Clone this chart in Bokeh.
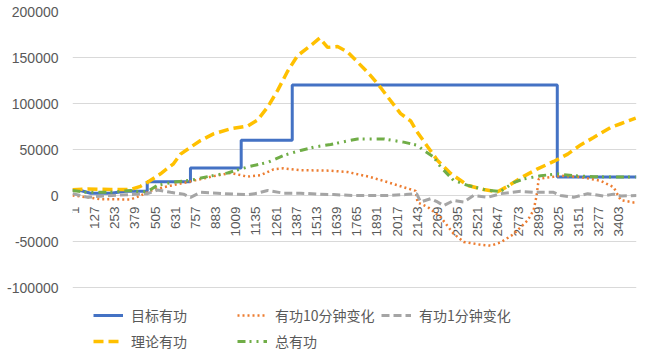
import math
from bokeh.plotting import figure
from bokeh.models import Range1d, FixedTicker, Legend, LegendItem, NumeralTickFormatter, ColumnDataSource
from bokeh.embed import file_html
from bokeh.resources import INLINE
from bokeh.core.properties import value

# ---------------- data ----------------
n_points = 3525
x_tick_labels = ["1", "127", "253", "379", "505", "631", "757", "883", "1009", "1135",
                 "1261", "1387", "1513", "1639", "1765", "1891", "2017", "2143", "2269",
                 "2395", "2521", "2647", "2773", "2899", "3025", "3151", "3277", "3403"]
y_ticks = [-100000, -50000, 0, 50000, 100000, 150000, 200000]

# 目标有功 (target active power)
target_x = [1, 51, 114, 239, 332, 468, 468, 738, 738, 1055, 1055, 1374, 1374, 3030, 3030, 3525]
target_y = [6000, 5500, 2500, 2500, 4500, 4500, 15000, 15000, 30000, 30000, 60000, 60000,
            120000, 120000, 20000, 20000]

# 有功10分钟变化 (10-min change)
chg10_x = [1, 95, 176, 364, 426, 489, 570, 676, 757, 882, 989, 1095, 1176, 1257, 1320,
           1426, 1614, 1720, 1864, 1970, 2070, 2145, 2157, 2220, 2301, 2382, 2445, 2551,
           2614, 2676, 2757, 2845, 2882, 2901, 2914, 2970, 3051, 3176, 3301, 3382, 3426,
           3507, 3525]
chg10_y = [0, -2000, -4000, -4300, 0, 5000, 9000, 13000, 16000, 21000, 24500, 20500,
           22000, 28500, 29500, 27500, 27000, 25500, 20000, 14500, 9000, 5000, -7500,
           -12500, -23500, -41500, -50500, -53500, -54500, -51000, -42000, -27000, -16000,
           0, 18000, 19500, 21500, 20000, 16000, 9000, -5000, -7500, -7500]

# 有功1分钟变化 (1-min change)
chg1_x = [1, 95, 195, 301, 407, 470, 532, 614, 695, 739, 801, 907, 1007, 1095, 1157,
          1220, 1320, 1426, 1532, 1632, 1757, 1970, 2082, 2151, 2176, 2239, 2282, 2320,
          2382, 2445, 2507, 2595, 2676, 2801, 2882, 3007, 3051, 3132, 3220, 3320, 3382,
          3426, 3525]
chg1_y = [2000, -2000, -500, 500, 1500, 2000, 6000, 3500, 1500, -2000, 3500, 2500, 1500,
          1000, 2500, 5500, 2500, 2500, 1500, 1000, 0, 0, 1000, 2000, -7000, -3500, -7000,
          -11000, -5500, -7000, 0, -2000, 2000, 4500, 3500, 3500, 0, -2000, 2000, -500,
          1500, -500, 0]

# 理论有功 (theoretical active power)
theo_x = [1, 95, 239, 364, 426, 470, 551, 632, 676, 739, 801, 882, 989, 1095, 1157, 1220,
          1282, 1345, 1407, 1489, 1545, 1595, 1657, 1720, 1782, 1845, 1914, 1989, 2051,
          2114, 2151, 2220, 2282, 2364, 2470, 2570, 2657, 2720, 2801, 2907, 3007, 3095,
          3176, 3257, 3364, 3426, 3520]
theo_y = [6200, 7000, 6500, 6500, 10000, 14500, 23600, 34500, 45000, 52500, 59800, 67000,
          72500, 75500, 82000, 96000, 114000, 135000, 152000, 163000, 171000, 161000,
          162000, 156000, 145000, 134000, 120000, 103000, 89000, 81000, 70000, 53000,
          38000, 24000, 11000, 6500, 4000, 10000, 19000, 29000, 37000, 45000, 55000,
          63000, 74000, 78000, 84000]

# 总有功 (total active power)
total_x = [1, 95, 239, 364, 426, 470, 532, 632, 739, 845, 970, 1095, 1220, 1320, 1426,
           1507, 1614, 1782, 1945, 2070, 2157, 2195, 2257, 2301, 2382, 2470, 2595, 2676,
           2757, 2820, 2926, 3032, 3132, 3257, 3382, 3520]
total_y = [5500, 3500, 3500, 5500, 4000, 4500, 11000, 14500, 16500, 20500, 24500, 31000,
           36000, 43500, 49000, 52500, 55500, 61500, 61500, 58000, 54500, 49000, 42000,
           31000, 16500, 11000, 5500, 4500, 14000, 18000, 21500, 23500, 21500, 20500,
           20000, 20000]

# ---------------- layout ----------------
W, H = 647, 359
frame_top, px_per_300k = 11, 276
frame_h = H - frame_top
y_lo = -100000 - (frame_h - px_per_300k) * 300000 / px_per_300k

p = figure(width=W, height=H, output_backend="svg", toolbar_location=None,
           x_range=Range1d(1, n_points), y_range=Range1d(y_lo, 200000),
           x_axis_location=None, min_border_left=72, min_border_right=11,
           min_border_top=frame_top, min_border_bottom=0)
p.outline_line_color = None
p.background_fill_color = "white"
p.border_fill_color = "white"

ticker = FixedTicker(ticks=y_ticks)
p.yaxis.ticker = ticker
p.ygrid.ticker = ticker
p.xgrid.visible = False
p.ygrid.grid_line_color = "#D9D9D9"
p.ygrid.grid_line_width = 1
p.yaxis.formatter = NumeralTickFormatter(format="0")
p.yaxis.axis_line_color = None
p.yaxis.major_tick_line_color = None
p.yaxis.minor_tick_line_color = None
p.yaxis.major_tick_out = 0
p.yaxis.major_tick_in = 0
p.yaxis.major_label_standoff = 14
p.yaxis.major_label_text_font = "Liberation Sans"
p.yaxis.major_label_text_font_size = "14px"
p.yaxis.major_label_text_color = "#595959"

# category labels hanging below the zero line
lbl_src = ColumnDataSource(dict(x=[int(t) for t in x_tick_labels],
                                y=[0] * len(x_tick_labels), t=x_tick_labels))
p.text(x="x", y="y", text="t", source=lbl_src, angle=math.pi / 2,
       text_align="right", text_baseline="middle", y_offset=11, x_offset=2,
       text_font=value("Liberation Sans"), text_font_size="13.5px", text_color="#595959")

r_target = p.line(target_x, target_y, line_color="#4472C4", line_width=3)
r_chg10 = p.line(chg10_x, chg10_y, line_color="#ED7D31", line_width=2.5, line_dash="2 3")
r_chg1 = p.line(chg1_x, chg1_y, line_color="#A5A5A5", line_width=3, line_dash="8 4")
r_theo = p.line(theo_x, theo_y, line_color="#FFC000", line_width=3.5, line_dash="10 5")
r_total = p.line(total_x, total_y, line_color="#70AD47", line_width=3, line_dash="8 4 2 5 2 5")

legend = Legend(items=[
    LegendItem(label="目标有功", renderers=[r_target]),
    LegendItem(label="有功10分钟变化", renderers=[r_chg10]),
    LegendItem(label="有功1分钟变化", renderers=[r_chg1]),
    LegendItem(label="理论有功", renderers=[r_theo]),
    LegendItem(label="总有功", renderers=[r_total]),
], orientation="horizontal", ncols=3, location=(21, 8))
legend.margin = 0
legend.padding = 0
legend.spacing = 6
legend.glyph_width = 30
legend.glyph_height = 20
legend.label_width = 100
legend.label_height = 20
legend.label_standoff = 8
legend.border_line_color = None
legend.background_fill_alpha = 0
legend.label_text_font = "Noto Sans CJK SC"
legend.label_text_font_size = "14px"
legend.label_text_color = "#595959"
p.add_layout(legend)

open("out.html", "w").write(file_html(p, INLINE))
